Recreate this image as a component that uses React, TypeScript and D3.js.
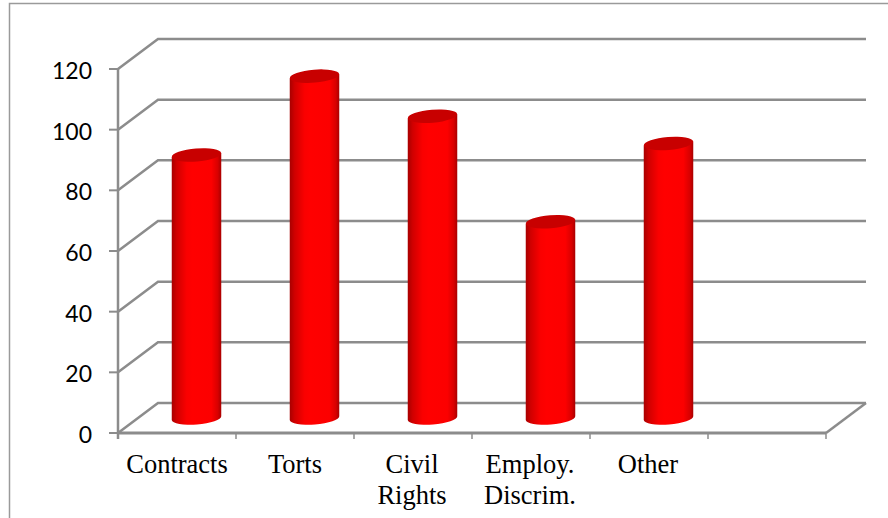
import * as d3 from 'd3';

const categories = ['Contracts', 'Torts', 'Civil Rights', 'Employ. Discrim.', 'Other', ''];
const values = [86.7, 112.7, 99.5, 64.7, 90.5];
const yTicks = [0, 20, 40, 60, 80, 100, 120];

const labelLines: Record<string, string[]> = {
  'Civil Rights': ['Civil', 'Rights'],
  'Employ. Discrim.': ['Employ.', 'Discrim.'],
};
const labelNudge = [0, 0, -1, -1, -1, 0];

const width = 888;
const height = 518;
const left = 118;
const right = 826;
const bottom = 433;
const top = 69;
const depthX = 40;
const depthY = -30;
const grey = '#8c8c8c';

export default function App() {
  const x = d3.scaleBand<string>().domain(categories.map((c, i) => c || `blank${i}`)).range([left, right]);
  const y = d3.scaleLinear().domain([0, 120]).range([bottom, top]);
  const ticksX = d3.range(categories.length + 1).map((i) => left + i * x.step());

  const barW = 49.5;
  const ry = 6.5;
  const rx = barW / 2;
  const tilt = 2; // the ellipses lean up to the right
  const tiltDeg = (Math.atan2(tilt, rx) * 180) / Math.PI;

  return (
    <svg
      width={width}
      height={height}
      viewBox={`0 0 ${width} ${height}`}
      style={{ position: 'fixed', left: 0, top: 0, background: '#fff' }}
    >
      <defs>
        <linearGradient id="cyl" x1="0" x2="1" y1="0" y2="0">
          <stop offset="0" stopColor="#a80000" />
          <stop offset="0.1" stopColor="#d00000" />
          <stop offset="0.3" stopColor="#fa0000" />
          <stop offset="0.42" stopColor="#ff0000" />
          <stop offset="0.8" stopColor="#fc0000" />
          <stop offset="0.93" stopColor="#d80000" />
          <stop offset="1" stopColor="#a80000" />
        </linearGradient>
      </defs>

      {/* outer frame, runs off the page */}
      <path d={`M9.5,${height} V3.5 H${width}`} fill="none" stroke="#9a9a9a" strokeWidth={1.5} />

      {/* walls and gridlines */}
      {yTicks.map((t) => (
        <g key={t}>
          <path
            d={`M${left},${y(t)} L${left + depthX},${y(t) + depthY} H${right + depthX}`}
            fill="none"
            stroke={grey}
            strokeWidth={2.5}
          />
          <line x1={left - 9} x2={left} y1={y(t)} y2={y(t)} stroke={grey} strokeWidth={2} />
          <text
            x={left - 26}
            y={y(t) + 10}
            textAnchor="end"
            fontFamily="Lato, sans-serif"
            fontSize={23}
            fill="#000"
          >
            {t}
          </text>
        </g>
      ))}

      {/* axes and floor edge */}
      <line x1={left} x2={left} y1={top} y2={bottom + 6} stroke={grey} strokeWidth={2.5} />
      <line x1={left} x2={right} y1={bottom} y2={bottom} stroke={grey} strokeWidth={3} />
      <line x1={right} x2={right + depthX} y1={bottom} y2={bottom + depthY} stroke={grey} strokeWidth={2.5} />
      {ticksX.map((tx) => (
        <line key={tx} x1={tx} x2={tx} y1={bottom} y2={bottom + 6} stroke={grey} strokeWidth={1.5} />
      ))}

      {/* cylinders */}
      {values.map((v, i) => {
        const cx = (x(x.domain()[i]) as number) + x.bandwidth() / 2 + depthX / 2 - 0.5;
        const yBase = y(0) + depthY / 2;
        const yTop = y(v) + depthY / 2;
        return (
          <g key={categories[i]}>
            <path
              d={`M${cx - rx},${yTop + tilt} V${yBase + tilt} A${rx},${ry} ${-tiltDeg} 0 0 ${cx + rx},${yBase - tilt} V${yTop - tilt} Z`}
              fill="url(#cyl)"
            />
            <ellipse
              cx={cx}
              cy={yTop}
              rx={rx}
              ry={ry}
              fill="#c80000"
              transform={`rotate(${-tiltDeg} ${cx} ${yTop})`}
            />
          </g>
        );
      })}

      {/* category labels */}
      {categories.map((c, i) => {
        const lines = labelLines[c] ?? [c];
        const cx = (x(x.domain()[i]) as number) + x.bandwidth() / 2 + labelNudge[i];
        return lines.map((line, j) => (
          <text
            key={`${c}-${j}`}
            x={cx}
            y={473 + j * 31}
            textAnchor="middle"
            fontFamily="'Liberation Serif', serif"
            fontSize={26.5}
            fill="#000"
          >
            {line}
          </text>
        ));
      })}
    </svg>
  );
}
